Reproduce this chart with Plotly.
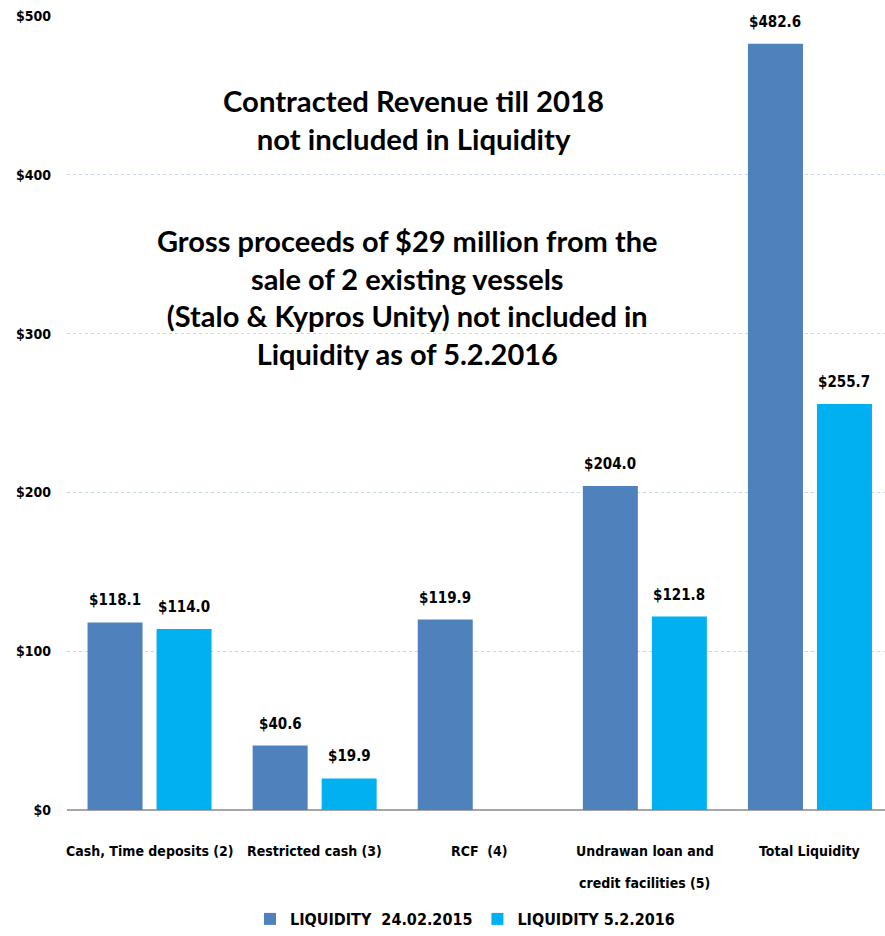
import plotly.graph_objects as go

categories = ["Cash, Time deposits (2)", "Restricted cash (3)", "RCF  (4)",
              "Undrawan loan and<br>credit facilities (5)", "Total Liquidity"]
series_names = ["LIQUIDITY  24.02.2015", "LIQUIDITY 5.2.2016"]
liq_2015 = [118.1, 40.6, 119.9, 204.0, 482.6]
liq_2016 = [114.0, 19.9, None, 121.8, 255.7]
y_ticks = [0, 100, 200, 300, 400, 500]
y_ticktext = ["$0", "$100", "$200", "$300", "$400", "$500"]

note1 = "Contracted Revenue till 2018<br>not included in Liquidity"
note2 = ("Gross proceeds of $29 million from the<br>sale of 2 existing vessels<br>"
         "(Stalo & Kypros Unity) not included in<br>Liquidity as of 5.2.2016")

colors = ["#4F81BD", "#00B0F0"]
NARROW = "DejaVu Sans Condensed, Roboto, sans-serif"
CAL = "Lato"

W, H = 885, 936
ML, MR, MT, MB = 67, 0, 16, 122
xrange_ = [-0.5, 4.4545]
cat_px = (W - ML - MR) / (xrange_[1] - xrange_[0])
bargap = 0.164
slot = (1 - bargap) / 2
shift_px = slot / 2 * cat_px
pw, ph = W - ML - MR, H - MT - MB


def px2paper(px, py):
    return (px - ML) / pw, (H - MB - py) / ph


fig = go.Figure()
for name, vals, col in zip(series_names, [liq_2015, liq_2016], colors):
    fig.add_trace(go.Bar(x=categories, y=vals, name=f"<b>{name}</b>", marker_color=col,
                         marker_line_width=0))

annotations = []
for k, vals in enumerate([liq_2015, liq_2016]):
    sgn = -1 if k == 0 else 1
    for c, v in zip(categories, vals):
        if v is None:
            continue
        annotations.append(dict(x=c, y=v, xref="x", yref="y", text=f"<b>${v:.1f}</b>",
                                showarrow=False, xshift=sgn * shift_px, yshift=11,
                                yanchor="bottom",
                                font=dict(family=NARROW, size=15, color="black")))

for c in categories:
    for j, line in enumerate(c.split("<br>")):
        annotations.append(dict(x=c, y=0, xref="x", yref="y", text=f"<b>{line}</b>",
                                showarrow=False, yanchor="middle", yshift=-41 - 32 * j,
                                font=dict(family=NARROW, size=14, color="black")))

x1, y1 = px2paper(413, 120)
x2, y2 = px2paper(407, 298)
annotations.append(dict(x=x1, y=y1, xref="paper", yref="paper", text=f"<b>{note1}</b>",
                        showarrow=False, align="center", xanchor="center", yanchor="middle",
                        font=dict(family=CAL, size=29.3, color="black")))
annotations.append(dict(x=x2, y=y2, xref="paper", yref="paper", text=f"<b>{note2}</b>",
                        showarrow=False, align="center", xanchor="center", yanchor="middle",
                        font=dict(family=CAL, size=29, color="black")))

lx, ly = px2paper(465, 924)
fig.update_layout(
    annotations=annotations,
    width=W, height=H,
    margin=dict(l=ML, r=MR, t=MT, b=MB, pad=0),
    paper_bgcolor="white", plot_bgcolor="white",
    barmode="group", bargap=bargap, bargroupgap=0.203,
    showlegend=True,
    legend=dict(orientation="h", x=lx, xanchor="center", y=ly,
                yanchor="middle", font=dict(family=NARROW, size=16, color="black"),
                itemclick=False, traceorder="normal"),
    xaxis=dict(range=xrange_, showticklabels=False, showgrid=False, zeroline=False,
               showline=False, ticks=""),
    yaxis=dict(range=[0, 500], tickvals=y_ticks, ticktext=[f"<b>{t}</b>" for t in y_ticktext],
               tickfont=dict(family=NARROW, size=14, color="black"),
               showgrid=True, gridcolor="#C6D9F1", griddash="dot", gridwidth=1,
               zeroline=True, zerolinecolor="#A6A6A6", zerolinewidth=2,
               showline=False, ticks="", ticklabelstandoff=15),
)

fig.write_html("out.html", config={"displayModeBar": False},
               post_script="document.body.style.margin='0';")
